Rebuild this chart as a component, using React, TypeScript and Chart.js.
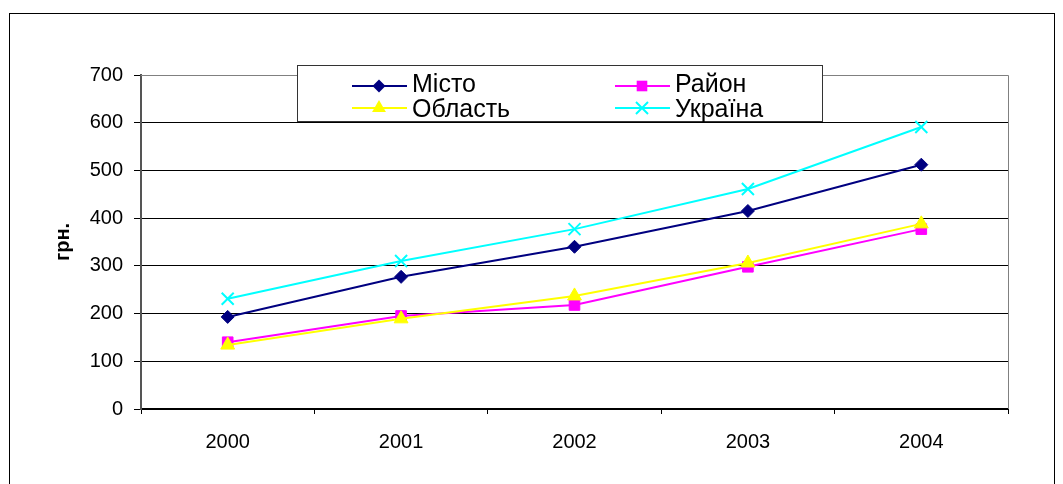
import React, { useEffect, useRef } from "react";
import { Chart, registerables } from "chart.js";

Chart.register(...registerables);

const years = ["2000", "2001", "2002", "2003", "2004"];
const misto = [193, 277, 340, 415, 512];
const raion = [140, 195, 218, 298, 377];
const oblast = [134, 189, 237, 306, 388];
const ukraina = [231, 310, 377, 461, 591];
const seriesNames = ["Місто", "Район", "Область", "Україна"];
const seriesColors = ["#000080", "#FF00FF", "#FFFF00", "#00FFFF"];
const seriesMarkers = ["rectRot", "rect", "triangle", "crossRot"];
const markerRadius = [6.5, 7.5, 8, 8.5];
const yTicks = [0, 100, 200, 300, 400, 500, 600, 700];

const FONT = "'Liberation Sans', Arial, sans-serif";

function drawMarker(ctx: CanvasRenderingContext2D, style: string, x: number, y: number, r: number, color: string) {
  ctx.save();
  ctx.fillStyle = color;
  ctx.strokeStyle = color;
  ctx.lineWidth = 2;
  ctx.beginPath();
  if (style === "rectRot") {
    ctx.moveTo(x, y - r);
    ctx.lineTo(x + r, y);
    ctx.lineTo(x, y + r);
    ctx.lineTo(x - r, y);
    ctx.closePath();
    ctx.fill();
  } else if (style === "rect") {
    const s = Math.SQRT1_2 * r;
    ctx.rect(x - s, y - s, 2 * s, 2 * s);
    ctx.fill();
  } else if (style === "triangle") {
    ctx.moveTo(x, y - r);
    ctx.lineTo(x + r * 0.866, y + r * 0.5);
    ctx.lineTo(x - r * 0.866, y + r * 0.5);
    ctx.closePath();
    ctx.fill();
  } else {
    const s = Math.SQRT1_2 * r;
    ctx.moveTo(x - s, y - s);
    ctx.lineTo(x + s, y + s);
    ctx.moveTo(x + s, y - s);
    ctx.lineTo(x - s, y + s);
    ctx.stroke();
  }
  ctx.restore();
}

const framePlugin = {
  id: "framePlugin",
  beforeDatasetsDraw(chart: any) {
    const { ctx, chartArea } = chart;
    ctx.save();
    ctx.strokeStyle = "#808080";
    ctx.lineWidth = 1;
    ctx.beginPath();
    ctx.moveTo(chartArea.left, Math.round(chartArea.top) + 0.5);
    ctx.lineTo(chartArea.right + 0.5, Math.round(chartArea.top) + 0.5);
    ctx.lineTo(chartArea.right + 0.5, chartArea.bottom);
    ctx.stroke();
    ctx.restore();
  },
  afterDraw(chart: any) {
    const ctx: CanvasRenderingContext2D = chart.ctx;
    ctx.save();
    // outer frame
    ctx.strokeStyle = "#000";
    ctx.lineWidth = 1;
    ctx.strokeRect(9.5, 13.5, 1045, 490);
    // legend box
    const bx = 297, by = 65, bw = 525, bh = 56;
    ctx.fillStyle = "#fff";
    ctx.fillRect(bx, by, bw, bh);
    ctx.strokeStyle = "#333";
    ctx.strokeRect(bx + 0.5, by + 0.5, bw, bh);
    const cols = [352, 615];
    const rows = [86, 108];
    ctx.font = `25px ${FONT}`;
    ctx.textBaseline = "alphabetic";
    ctx.textAlign = "left";
    seriesNames.forEach((name, i) => {
      const cx = cols[i % 2];
      const cy = rows[Math.floor(i / 2)];
      ctx.strokeStyle = seriesColors[i];
      ctx.lineWidth = 2;
      ctx.beginPath();
      ctx.moveTo(cx, cy);
      ctx.lineTo(cx + 55, cy);
      ctx.stroke();
      drawMarker(ctx, seriesMarkers[i], cx + 27, cy, markerRadius[i], seriesColors[i]);
      ctx.fillStyle = "#000";
      ctx.fillText(name, cx + 60, cy + (i < 2 ? 6 : 9));
    });
    ctx.restore();
  },
};

export default function App() {
  const ref = useRef<HTMLCanvasElement | null>(null);
  useEffect(() => {
    if (!ref.current) return;
    const data = [misto, raion, oblast, ukraina];
    const chart = new Chart(ref.current, {
      type: "line",
      data: {
        labels: years,
        datasets: data.map((d, i) => ({
          label: seriesNames[i],
          data: d,
          borderColor: seriesColors[i],
          backgroundColor: seriesColors[i],
          borderWidth: 2,
          pointStyle: seriesMarkers[i] as any,
          pointRadius: markerRadius[i],
          pointBorderWidth: seriesMarkers[i] === "crossRot" ? 2 : 1,
          pointBorderColor: seriesColors[i],
          pointBackgroundColor: seriesColors[i],
          tension: 0,
          order: 4 - i,
        })),
      },
      options: {
        animation: false,
        responsive: false,
        devicePixelRatio: 1,
        layout: { padding: { left: 0, top: 75, right: 55, bottom: 0 } },
        plugins: { legend: { display: false }, tooltip: { enabled: false } },
        scales: {
          x: {
            offset: true,
            afterFit: (s: any) => { s.height = 75; },
            grid: { offset: true, drawOnChartArea: false, tickLength: 5, tickColor: "#000", color: "#000" },
            border: { color: "#000", width: 2 },
            ticks: { color: "#000", font: { family: FONT, size: 20 }, padding: 16, maxRotation: 0 },
          },
          y: {
            min: 0,
            max: 700,
            afterFit: (s: any) => { s.width = 141; },
            afterBuildTicks: (s: any) => { s.ticks = yTicks.map((v) => ({ value: v })); },
            grid: {
              tickLength: 7,
              tickColor: "#000",
              color: (c: any) => (c.tick && c.tick.value === 700 ? "rgba(0,0,0,0)" : "#000"),
            },
            border: { color: "#555", width: 2 },
            ticks: { color: "#000", font: { family: FONT, size: 20 }, padding: 11 },
            title: {
              display: true,
              text: "грн.",
              color: "#000",
              font: { family: FONT, size: 20, weight: "bold" },
              padding: { top: 51, bottom: 0 },
            },
          },
        },
      },
      plugins: [framePlugin],
    });
    return () => chart.destroy();
  }, []);
  return (
    <canvas
      ref={ref}
      width={1063}
      height={484}
      style={{ position: "fixed", left: 0, top: 0, width: 1063, height: 484, background: "#fff" }}
    />
  );
}
